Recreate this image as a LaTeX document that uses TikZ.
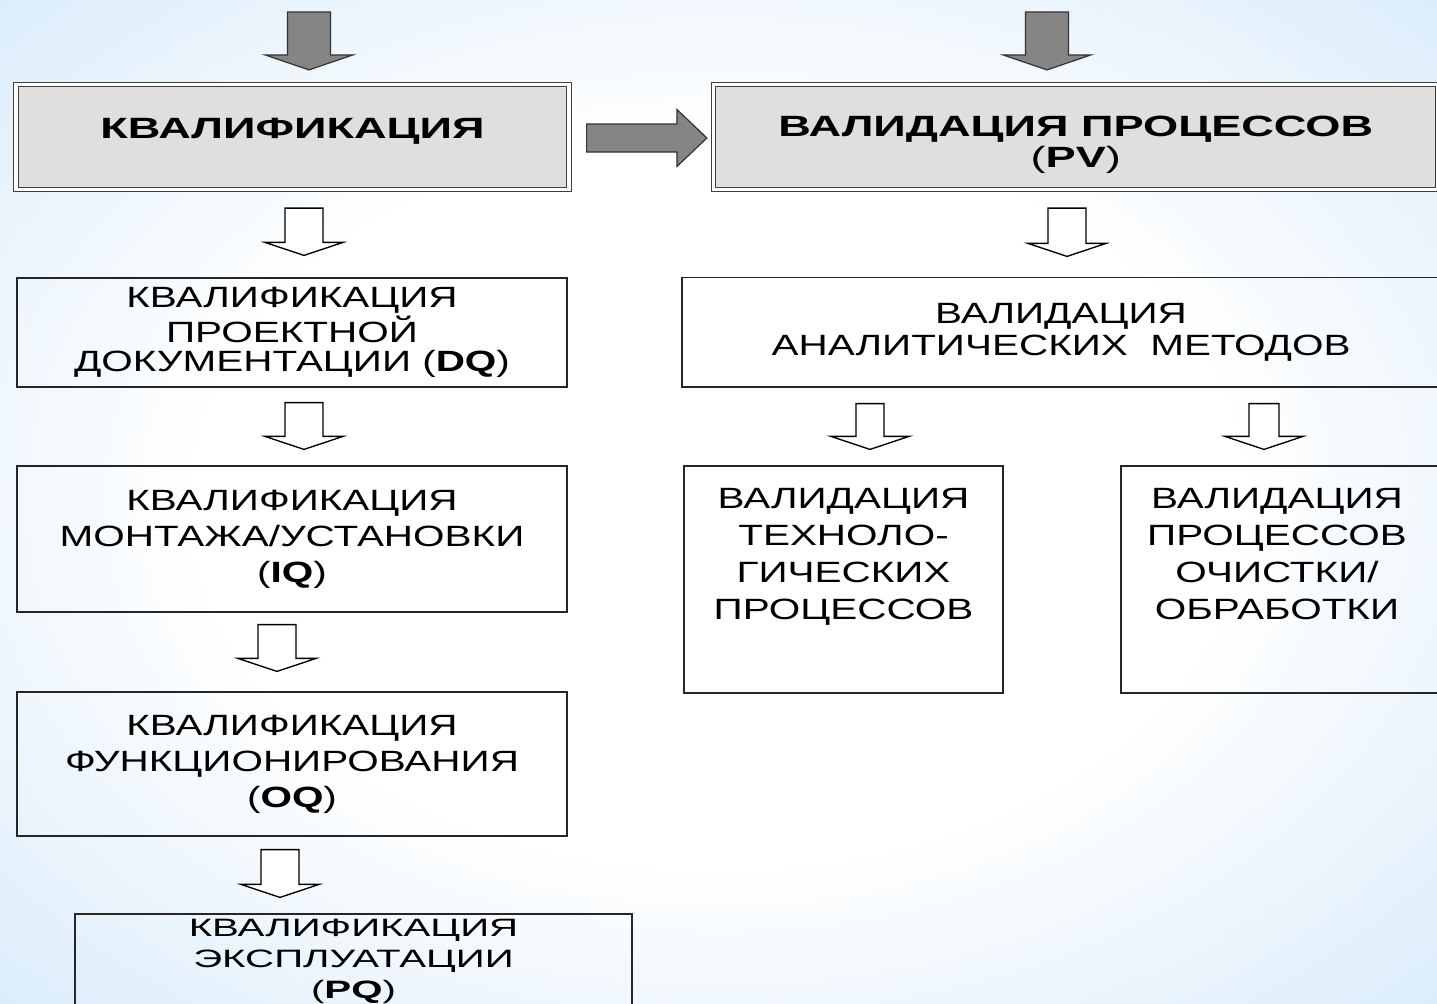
\documentclass[tikz,border=0pt]{standalone}
\usepackage{fontspec}
\newfontfamily\boxfont[FakeStretch=1.38]{Liberation Sans}
\newfontfamily\headfont[FakeStretch=1.54]{Liberation Sans}
\newfontfamily\lowfont[FakeStretch=1.6]{Liberation Sans}
\usetikzlibrary{calc,positioning}
\definecolor{bgblue}{RGB}{194,223,247}
\pgfdeclareradialshading{sky}{\pgfpoint{0bp}{0bp}}{color(0bp)=(white); color(18bp)=(white); color(48bp)=(bgblue); color(100bp)=(bgblue)}

\tikzset{
  arr shaft/.store in=\arrshaft, arr head/.store in=\arrhead, arr tip/.store in=\arrtip,
  arr shaft=9.5pt, arr head=19.5pt, arr tip=6.5pt,
  blk/.style={to path={
    ($(\tikztotarget)!\arrtip!(\tikztostart)$) coordinate (hb)
    ($(\tikztostart)!\arrshaft!90:(\tikztotarget)$)
    -- ($(hb)!\arrshaft!90:(\tikztotarget)$)
    -- ($(hb)!\arrhead!90:(\tikztotarget)$)
    -- (\tikztotarget)
    -- ($(hb)!\arrhead!-90:(\tikztotarget)$)
    -- ($(hb)!\arrshaft!-90:(\tikztotarget)$)
    -- ($(\tikztostart)!\arrshaft!-90:(\tikztotarget)$)
    -- cycle}},
  holl/.style={blk, draw=black, line width=0.7pt, fill=white},
  grayblk/.style={blk, draw=black!80, line width=0.6pt, fill=black!48,
    arr shaft=10.75pt, arr head=22pt, arr tip=7.5pt},
  topbox/.style={draw=black!75, line width=0.6pt, double=white, double distance=1.6pt,
    fill=gray!25, inner sep=0pt, align=center, font=\headfont\fontsize{14.66pt}{15pt}\selectfont},
  box/.style={draw=black!85, line width=0.6pt, inner sep=0pt, align=center,
    font=\boxfont\fontsize{14.66pt}{18pt}\selectfont},
  boxtext/.style={inner sep=0pt, align=center, font=\boxfont\fontsize{14.66pt}{18.5pt}\selectfont}
}

\begin{document}
\begin{tikzpicture}[x=0.5pt,y=-0.5pt]
  \useasboundingbox (0,0) rectangle (1437,1003);
  \shade[shading=sky] (0,0) rectangle (1437,1003);
  \clip (0,0) rectangle (1437,1003);

  \node[topbox, minimum width=276.5pt, minimum height=52.5pt, text height=10.5pt, text depth=9pt] (q_main) at (292.5,137) {\bfseries КВАЛИФИКАЦИЯ};
  \node[topbox, minimum width=362.25pt, minimum height=52.5pt] (v_main) at (1075.75,137) {};
  \node[boxtext, font=\headfont\fontsize{14.66pt}{15.5pt}\selectfont] (v_main_t) at ([yshift=-4pt]v_main.center) {\textbf{ВАЛИДАЦИЯ ПРОЦЕССОВ}\\(\textbf{PV})};

  \node[box, minimum width=275pt, minimum height=54.5pt, font=\boxfont\fontsize{14.66pt}{14.75pt}\selectfont] (q_dq) at (292,332.5) {КВАЛИФИКАЦИЯ\\ПРОЕКТНОЙ\\ДОКУМЕНТАЦИИ (\textbf{DQ})};
  \node[box, minimum width=275pt, minimum height=73pt] (q_iq) at (292,539) {КВАЛИФИКАЦИЯ\\МОНТАЖА/УСТАНОВКИ\\(\textbf{IQ})};
  \node[box, minimum width=275pt, minimum height=72pt] (q_oq) at (292,764) {КВАЛИФИКАЦИЯ\\ФУНКЦИОНИРОВАНИЯ\\(\textbf{OQ})};
  \node[box, minimum width=278.5pt, minimum height=68pt] (q_pq) at (353.5,982) {};
  \node[boxtext, font=\lowfont\fontsize{12.57pt}{15.5pt}\selectfont, below=2.5pt of q_pq.north] (q_pq_t) {КВАЛИФИКАЦИЯ\\ЭКСПЛУАТАЦИИ\\(\textbf{PQ})};

  \node[box, minimum width=379pt, minimum height=54.75pt, font=\boxfont\fontsize{14.66pt}{16pt}\selectfont] (v_am) at (1061,332.25) {ВАЛИДАЦИЯ\\АНАЛИТИЧЕСКИХ\ \ МЕТОДОВ};
  \node[box, minimum width=159.5pt, minimum height=113.5pt] (v_tp) at (843.5,579.5) {};
  \node[boxtext, below=11.5pt of v_tp.north] (v_tp_t) {ВАЛИДАЦИЯ\\ТЕХНОЛО-\\ГИЧЕСКИХ\\ПРОЦЕССОВ};
  \node[box, minimum width=159.5pt, minimum height=113.5pt] (v_op) at (1280.5,579.5) {};
  \node[boxtext, below=11.5pt of v_op.north, xshift=-1.75pt] (v_op_t) {ВАЛИДАЦИЯ\\ПРОЦЕССОВ\\ОЧИСТКИ/\\ОБРАБОТКИ};

  \coordinate (in_q) at (309,12);
  \coordinate (in_v) at (1047,12);
  \draw[grayblk] (in_q) to ([shift={(16.5,-14)}]q_main.north);
  \draw[grayblk] (in_v) to ([shift={(-28.75,-14)}]v_main.north);
  \draw[grayblk, arr shaft=7pt, arr head=14.25pt, arr tip=15pt] ([shift={(17,1)}]q_main.east) to ([shift={(-6,1)}]v_main.west);

  \draw[holl] ([shift={(11.5,18)}]q_main.south) to ([shift={(12,-22)}]q_dq.north);
  \draw[holl] ([shift={(12,15)}]q_dq.south) to ([shift={(12,-16)}]q_iq.north);
  \draw[holl] ([shift={(-15,12)}]q_iq.south) to ([shift={(-15,-20)}]q_oq.north);
  \draw[holl] ([shift={(-12,13)}]q_oq.south) to ([shift={(-73.5,-16)}]q_pq.north);
  \draw[holl] ([shift={(-8.75,18)}]v_main.south) to ([shift={(6,-20.5)}]v_am.north);
  \draw[holl, arr shaft=7pt] ([shift={(-191,16)}]v_am.south) to ([shift={(26.5,-16)}]v_tp.north);
  \draw[holl, arr shaft=7.5pt] ([shift={(203,16)}]v_am.south) to ([shift={(-16.5,-16)}]v_op.north);
\end{tikzpicture}
\end{document}
